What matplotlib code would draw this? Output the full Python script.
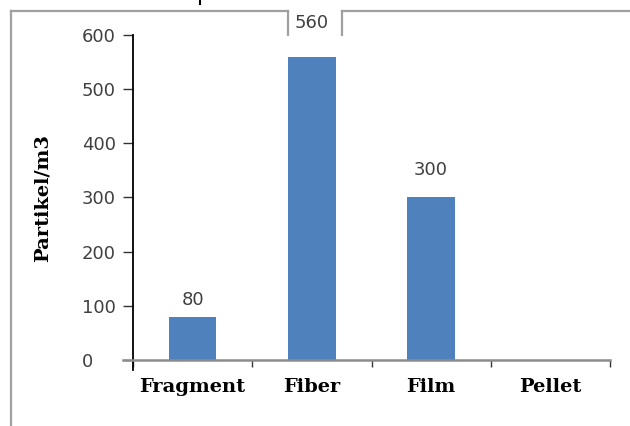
import matplotlib
matplotlib.use('Agg')
import matplotlib.pyplot as plt
from matplotlib.lines import Line2D

# data
categories = ['Fragment', 'Fiber', 'Film', 'Pellet']
counts = [80, 560, 300, 0]
y_ticks = [0, 100, 200, 300, 400, 500, 600]

BAR_COLOR = '#4F81BD'
TEXT_COLOR = '#404040'
W, H = 630, 426

fig = plt.figure(figsize=(W / 100, H / 100), dpi=100)
# axes box in pixels: x 133..610, y 35..360
ax = fig.add_axes([133 / W, 1 - 360 / H, (610 - 133) / W, (360 - 35) / H])

x = list(range(len(categories)))
bars = ax.bar(x, counts, width=0.4, color=BAR_COLOR, zorder=2)

ax.set_xlim(-0.5, len(categories) - 0.5)
ax.set_ylim(0, 600)

# value labels (offsets in points, as placed in the original)
label_offsets = [12, 24.5, 19.5, 0]
for xi, val, off in zip(x, counts, label_offsets):
    if val == 0:
        continue
    ax.annotate(str(val), (xi, val), xytext=(0, off), textcoords='offset points',
                ha='center', va='center', fontsize=13, color=TEXT_COLOR,
                family='DejaVu Sans', annotation_clip=False,
                bbox=dict(boxstyle='square,pad=0.1', fc='white', ec='none'))

# spines
for s in ['top', 'right']:
    ax.spines[s].set_visible(False)
px_per_unit_y = 325 / 600
px_per_cat = 477 / len(categories)
ax.spines['left'].set_color('black')
ax.spines['left'].set_linewidth(1.3)
ax.spines['left'].set_bounds(-10 / px_per_unit_y, 600)
ax.spines['bottom'].set_color('#8c8c8c')
ax.spines['bottom'].set_linewidth(1.8)
ax.spines['bottom'].set_bounds(-0.5 - 10 / px_per_cat, len(categories) - 0.5)

# y ticks
ax.set_yticks(y_ticks)
ax.tick_params(axis='y', length=7.2, width=1, color='#333333', pad=29.5,
               labelsize=13, labelcolor=TEXT_COLOR)
for lab in ax.get_yticklabels():
    lab.set_ha('left')

# x ticks: labels at categories, tick marks at boundaries
ax.set_xticks(x)
ax.set_xticklabels(categories, fontsize=14, fontweight='bold', family='DejaVu Serif')
ax.set_xticks([i - 0.5 for i in range(len(categories) + 1)], minor=True)
ax.tick_params(axis='x', which='major', length=0, pad=13)
ax.tick_params(axis='x', which='minor', length=5, width=1, color='#333333')

ax.set_ylabel('Partikel/m3', fontsize=14, fontweight='bold', family='DejaVu Serif',
              va='center')
ax.yaxis.set_label_coords((43 - 133) / 477, 0.5)

# outer frame of the screenshot
def frame_line(xs, ys, **kw):
    fig.add_artist(Line2D([v / W for v in xs], [1 - v / H for v in ys],
                          transform=fig.transFigure, **kw))

frame_kw = dict(color='#a0a0a0', lw=1.6)
frame_line([11, 11], [10.5, 426], **frame_kw)
frame_line([11, 288], [10.5, 10.5], **frame_kw)
frame_line([288, 288], [10.5, 35], **frame_kw)
frame_line([342, 342], [10.5, 35], **frame_kw)
frame_line([342, 630], [10.5, 10.5], **frame_kw)
frame_line([199.5, 199.5], [0, 4], color='black', lw=1.5)

fig.savefig('out.png', dpi=100)
